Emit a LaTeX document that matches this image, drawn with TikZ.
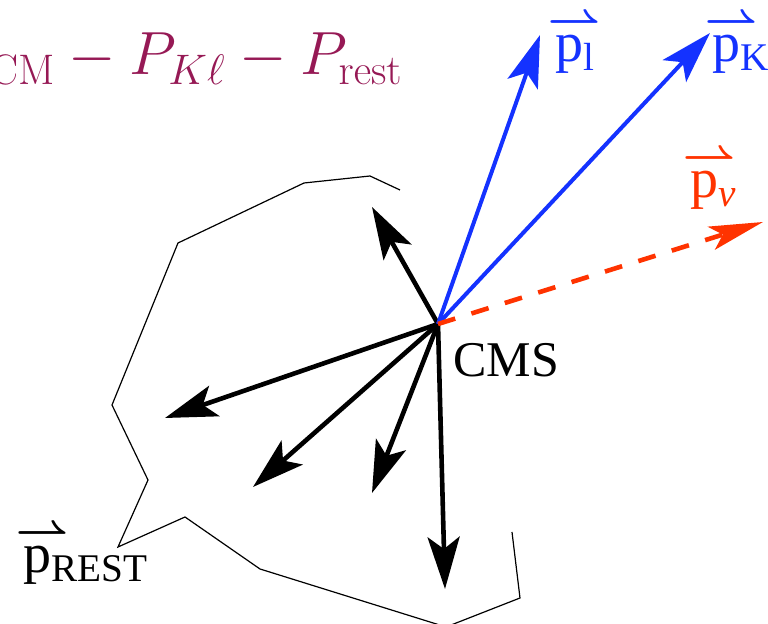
\RequirePackage{fix-cm}
\documentclass[tikz,border=0pt]{standalone}
\usepackage{amsmath}
\usepackage[no-math]{fontspec}
\setmainfont{Liberation Serif}
\usetikzlibrary{arrows.meta}
\definecolor{Beam}{HTML}{1432FF}
\definecolor{Miss}{HTML}{FF3300}
\definecolor{Plum}{HTML}{961955}
\newcommand{\vecp}[1]{\rlap{\kern-0.14em\raisebox{0.5em}{\fontsize{23}{23}\selectfont\boldmath$\rightharpoonup$}}p$_{\text{#1}}$}
\tikzset{track/.style={-{Stealth[length=26pt,width=16pt,inset=6pt]},line width=2.3pt},
  lepton/.style={track,draw=Beam,line width=2pt},
  neutrino/.style={-{Stealth[length=27pt,width=12pt,inset=6pt]},line width=2.3pt,
    draw=Miss,dash pattern=on 9pt off 8.5pt},
  tag/.style={anchor=base west,inner sep=0pt,font=\fontsize{28}{30}\selectfont},
  hull/.style={line width=0.6pt}}
\begin{document}
\begin{tikzpicture}[x=0.5pt,y=-0.5pt]
\useasboundingbox (0,0) rectangle (768,624);
\draw[hull] (400,190)--(370,176)--(304,183)--(178,243)--(112,405)--(148,480)--(118,547)
  --(185,517)--(260,569)--(446,627)--(520,598)--(512,532);
\coordinate (o) at (438,324);
\coordinate (t1) at (372,207);
\coordinate (t2) at (165,418);
\coordinate (t3) at (253,487);
\coordinate (t4) at (372,493);
\coordinate (t5) at (445,589);
\coordinate (l) at (540,35);
\coordinate (k) at (710,33);
\coordinate (nu) at (763,222);
\foreach \t in {t1,t2,t3,t4,t5} \draw[track] (o)--(\t);
\draw[lepton] (o)--(l);\draw[lepton] (o)--(k);
\draw[neutrino] (o)--(nu);
\node[tag,text=Beam] (pl) at (555,62) {\vecp{l}};
\node[tag,text=Beam] (pk) at (712,62) {\vecp{K}};
\node[tag,text=Miss] (pn) at (690,198) {\vecp{\itshape ν}};
\node[tag] (pr) at (23,573) {\vecp{REST}};
\node[anchor=base west,inner sep=0pt,font=\fontsize{25}{28}\selectfont] (cms) at (453,377) {CMS};
\node[anchor=base east,inner sep=0pt,text=Plum,font=\fontsize{30.5}{33}\selectfont] (eq) at (403,75)
  {$P_{\nu}=P_{\mathrm{CM}}-P_{K\ell}-P_{\mathrm{rest}}$};
\end{tikzpicture}
\end{document}
